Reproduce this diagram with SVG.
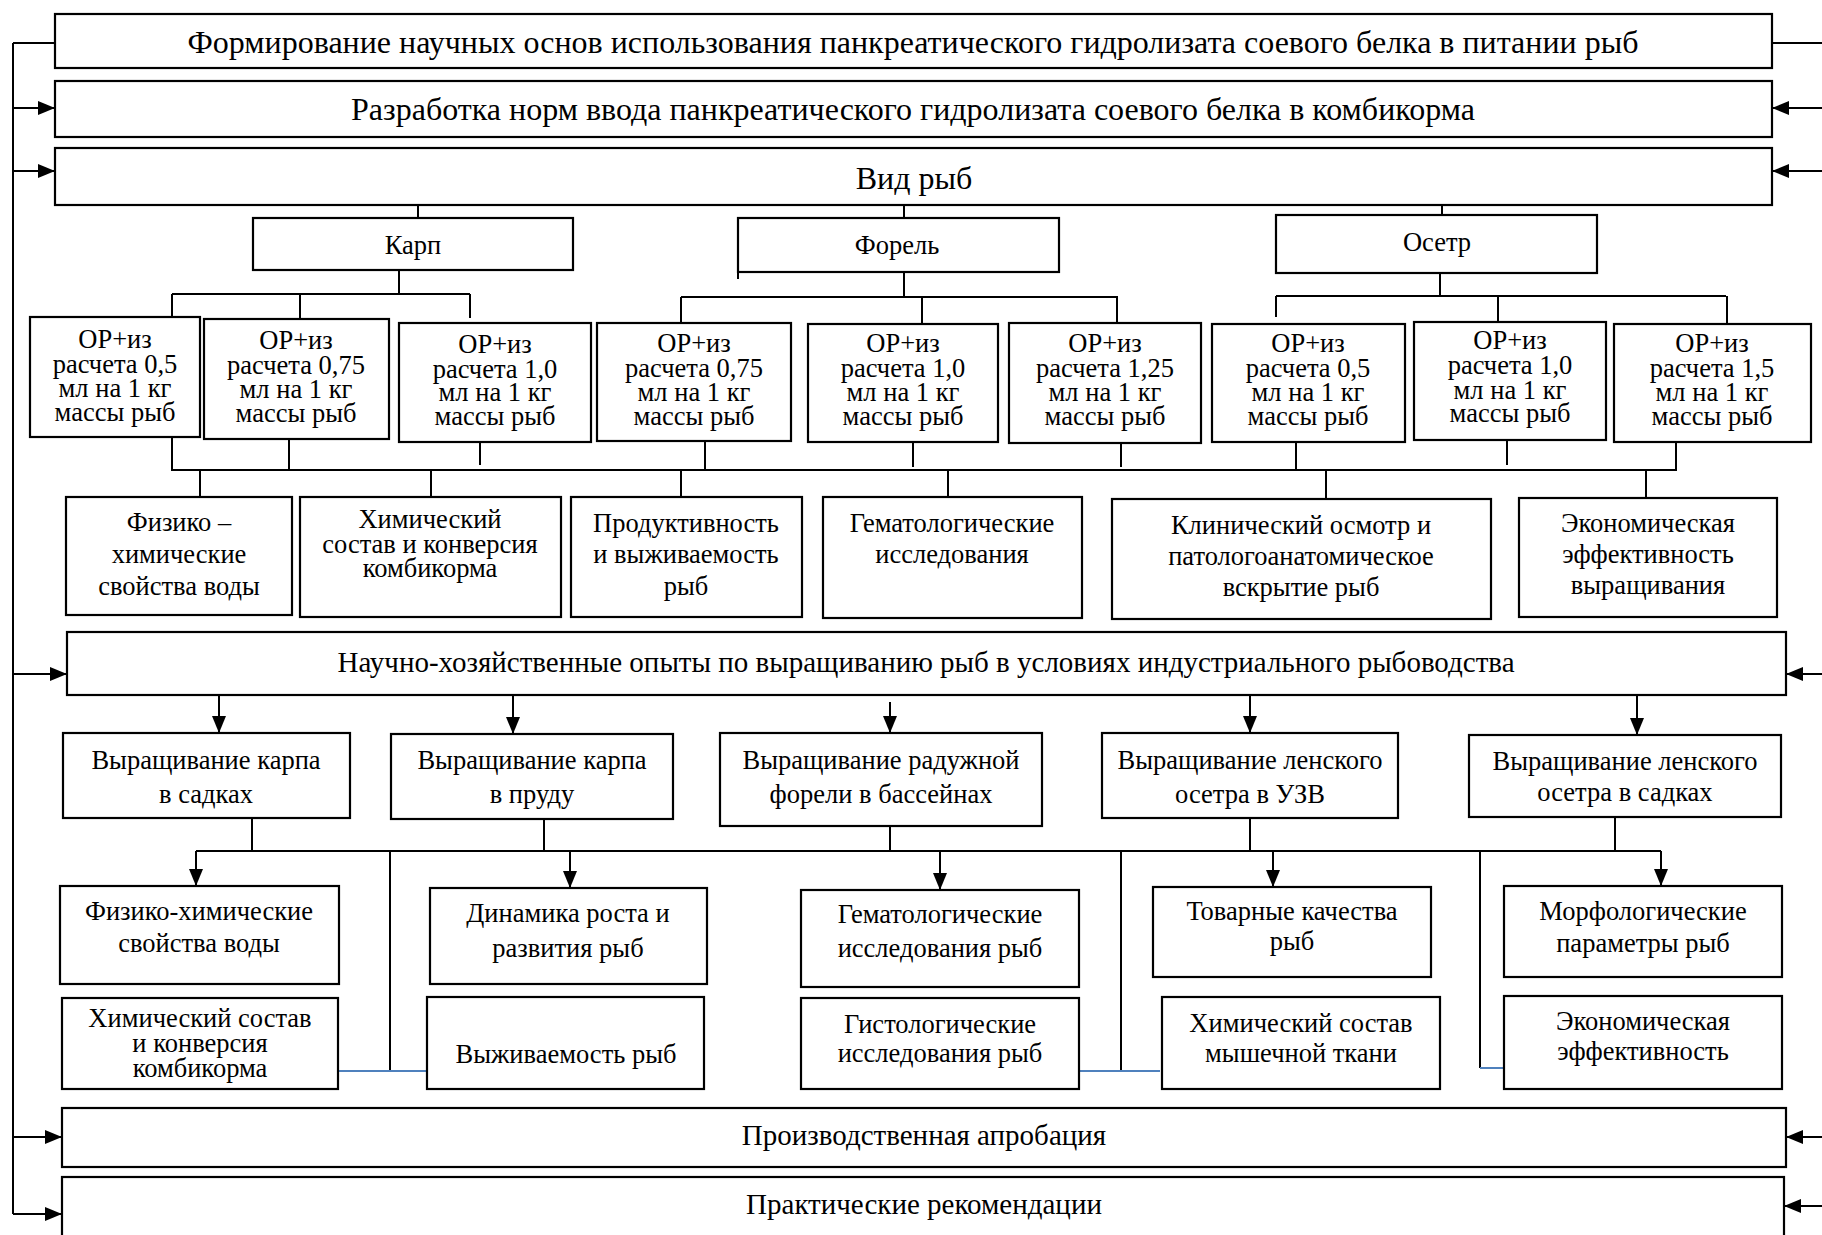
<svg xmlns="http://www.w3.org/2000/svg" width="1822" height="1235" viewBox="0 0 1822 1235">
<style>
.b{fill:#fff;stroke:#000;stroke-width:2.2}
.t{font-family:"Liberation Serif","Times New Roman",serif;fill:#000;text-anchor:middle}
.f32{font-size:32px}.f29{font-size:29px}.f26{font-size:26.5px}
.c{fill:none;stroke:#000;stroke-width:2}
.bl{fill:none;stroke:#4f81bd;stroke-width:1.8}
</style>
<defs>
<marker id="ah" markerUnits="userSpaceOnUse" viewBox="0 0 17 14" markerWidth="17" markerHeight="14" refX="17" refY="7" orient="auto">
<path d="M0,0 L17,7 L0,14 z" fill="#000"/>
</marker>
</defs>
<rect width="1822" height="1235" fill="#fff"/>

<g id="connectors">
<path class="c" d="M13,43 V1214 M13,43 H55 M1772,43 H1822"/>
<path class="c" marker-end="url(#ah)" d="M13,108 H55"/>
<path class="c" marker-end="url(#ah)" d="M13,171 H55"/>
<path class="c" marker-end="url(#ah)" d="M13,674 H67"/>
<path class="c" marker-end="url(#ah)" d="M13,1137 H62"/>
<path class="c" marker-end="url(#ah)" d="M13,1214 H62"/>
<path class="c" marker-end="url(#ah)" d="M1822,108 H1772"/>
<path class="c" marker-end="url(#ah)" d="M1822,171 H1772"/>
<path class="c" marker-end="url(#ah)" d="M1822,674 H1786"/>
<path class="c" marker-end="url(#ah)" d="M1822,1137 H1786"/>
<path class="c" marker-end="url(#ah)" d="M1822,1206 H1784"/>
<path class="c" d="M418,205 V218 M904,205 V218 M1442,205 V215"/>
<path class="c" d="M399,270 V294 M172,294 H470 M172,294 V317 M300,294 V319 M470,294 V318"/>
<path class="c" d="M904,272 V297 M681,297 H1118 M681,297 V323 M922,297 V324 M1117,297 V323 M738,270 V279"/>
<path class="c" d="M1440,273 V296 M1276,296 H1726 M1276,296 V317 M1498,296 V322 M1727,296 V324"/>
<path class="c" d="M172,437 V470 H1676 V443 M289,439 V470 M480,442 V465 M705,441 V470 M913,442 V467 M1121,443 V467 M1296,442 V470 M1507,440 V465"/>
<path class="c" d="M200,470 V497 M431,470 V497 M681,470 V497 M948,470 V497 M1326,470 V499 M1646,470 V498"/>
<path class="c" marker-end="url(#ah)" d="M219,695 V733"/>
<path class="c" marker-end="url(#ah)" d="M513,695 V734"/>
<path class="c" marker-end="url(#ah)" d="M890,702 V733"/>
<path class="c" marker-end="url(#ah)" d="M1250,695 V733"/>
<path class="c" marker-end="url(#ah)" d="M1637,695 V735"/>
<path class="c" d="M196,851 H1661 M252,818 V851 M544,819 V851 M890,826 V851 M1250,818 V851 M1615,817 V851"/>
<path class="c" marker-end="url(#ah)" d="M196,851 V886"/>
<path class="c" marker-end="url(#ah)" d="M570,851 V888"/>
<path class="c" marker-end="url(#ah)" d="M940,851 V890"/>
<path class="c" marker-end="url(#ah)" d="M1273,851 V887"/>
<path class="c" marker-end="url(#ah)" d="M1661,851 V886"/>
<path class="c" d="M390,851 V1071 M1121,851 V1071 M1480,851 V1068"/>
<path class="bl" d="M339,1071 H430 M1080,1071 H1160 M1480,1068 H1504"/>
</g>

<g id="n-title"><rect class="b" x="55" y="14" width="1717" height="54"/><text class="t f32" x="913" y="53">Формирование научных основ использования панкреатического гидролизата соевого белка в питании рыб</text></g>
<g id="n-norms"><rect class="b" x="55" y="81" width="1717" height="56"/><text class="t f32" x="913" y="120">Разработка норм ввода панкреатического гидролизата соевого белка в комбикорма</text></g>
<g id="n-species"><rect class="b" x="55" y="148" width="1717" height="57"/><text class="t f32" x="914" y="189">Вид рыб</text></g>

<g id="n-karp"><rect class="b" x="253" y="218" width="320" height="52"/><text class="t f26" x="413" y="254">Карп</text></g>
<g id="n-forel"><rect class="b" x="738" y="218" width="321" height="54"/><text class="t f26" x="897" y="254">Форель</text></g>
<g id="n-osetr"><rect class="b" x="1276" y="215" width="321" height="58"/><text class="t f26" x="1437" y="251">Осетр</text></g>

<g id="n-k1"><rect class="b" x="30" y="317" width="170" height="120"/><text class="t f26"><tspan x="115" y="348">ОР+из</tspan><tspan x="115" y="373">расчета 0,5</tspan><tspan x="115" y="397">мл на 1 кг</tspan><tspan x="115" y="421">массы рыб</tspan></text></g>
<g id="n-k2"><rect class="b" x="204" y="319" width="185" height="120"/><text class="t f26"><tspan x="296" y="349">ОР+из</tspan><tspan x="296" y="374">расчета 0,75</tspan><tspan x="296" y="398">мл на 1 кг</tspan><tspan x="296" y="422">массы рыб</tspan></text></g>
<g id="n-k3"><rect class="b" x="399" y="323" width="192" height="119"/><text class="t f26"><tspan x="495" y="353">ОР+из</tspan><tspan x="495" y="378">расчета 1,0</tspan><tspan x="495" y="401">мл на 1 кг</tspan><tspan x="495" y="425">массы рыб</tspan></text></g>
<g id="n-f1"><rect class="b" x="597" y="323" width="194" height="118"/><text class="t f26"><tspan x="694" y="352">ОР+из</tspan><tspan x="694" y="377">расчета 0,75</tspan><tspan x="694" y="401">мл на 1 кг</tspan><tspan x="694" y="425">массы рыб</tspan></text></g>
<g id="n-f2"><rect class="b" x="808" y="324" width="190" height="118"/><text class="t f26"><tspan x="903" y="352">ОР+из</tspan><tspan x="903" y="377">расчета 1,0</tspan><tspan x="903" y="401">мл на 1 кг</tspan><tspan x="903" y="425">массы рыб</tspan></text></g>
<g id="n-f3"><rect class="b" x="1009" y="323" width="192" height="120"/><text class="t f26"><tspan x="1105" y="352">ОР+из</tspan><tspan x="1105" y="377">расчета 1,25</tspan><tspan x="1105" y="401">мл на 1 кг</tspan><tspan x="1105" y="425">массы рыб</tspan></text></g>
<g id="n-o1"><rect class="b" x="1212" y="324" width="193" height="118"/><text class="t f26"><tspan x="1308" y="352">ОР+из</tspan><tspan x="1308" y="377">расчета 0,5</tspan><tspan x="1308" y="401">мл на 1 кг</tspan><tspan x="1308" y="425">массы рыб</tspan></text></g>
<g id="n-o2"><rect class="b" x="1414" y="322" width="192" height="118"/><text class="t f26"><tspan x="1510" y="349">ОР+из</tspan><tspan x="1510" y="374">расчета 1,0</tspan><tspan x="1510" y="399">мл на 1 кг</tspan><tspan x="1510" y="422">массы рыб</tspan></text></g>
<g id="n-o3"><rect class="b" x="1614" y="324" width="197" height="118"/><text class="t f26"><tspan x="1712" y="352">ОР+из</tspan><tspan x="1712" y="377">расчета 1,5</tspan><tspan x="1712" y="401">мл на 1 кг</tspan><tspan x="1712" y="425">массы рыб</tspan></text></g>

<g id="n-p1"><rect class="b" x="66" y="497" width="226" height="118"/><text class="t f26"><tspan x="179" y="531">Физико –</tspan><tspan x="179" y="563">химические</tspan><tspan x="179" y="595">свойства воды</tspan></text></g>
<g id="n-p2"><rect class="b" x="300" y="497" width="261" height="120"/><text class="t f26"><tspan x="430" y="528">Химический</tspan><tspan x="430" y="553">состав и конверсия</tspan><tspan x="430" y="577">комбикорма</tspan></text></g>
<g id="n-p3"><rect class="b" x="571" y="497" width="231" height="120"/><text class="t f26"><tspan x="686" y="532">Продуктивность</tspan><tspan x="686" y="563">и выживаемость</tspan><tspan x="686" y="595">рыб</tspan></text></g>
<g id="n-p4"><rect class="b" x="823" y="497" width="259" height="121"/><text class="t f26"><tspan x="952" y="532">Гематологические</tspan><tspan x="952" y="563">исследования</tspan></text></g>
<g id="n-p5"><rect class="b" x="1112" y="499" width="379" height="120"/><text class="t f26"><tspan x="1301" y="534">Клинический осмотр и</tspan><tspan x="1301" y="565">патологоанатомическое</tspan><tspan x="1301" y="596">вскрытие рыб</tspan></text></g>
<g id="n-p6"><rect class="b" x="1519" y="498" width="258" height="119"/><text class="t f26"><tspan x="1648" y="532">Экономическая</tspan><tspan x="1648" y="563">эффективность</tspan><tspan x="1648" y="594">выращивания</tspan></text></g>

<g id="n-trials"><rect class="b" x="67" y="632" width="1719" height="63"/><text class="t f29" x="926" y="672">Научно-хозяйственные опыты по выращиванию рыб в условиях индустриального рыбоводства</text></g>

<g id="n-c1"><rect class="b" x="63" y="733" width="287" height="85"/><text class="t f26"><tspan x="206" y="769">Выращивание карпа</tspan><tspan x="206" y="803">в садках</tspan></text></g>
<g id="n-c2"><rect class="b" x="391" y="734" width="282" height="85"/><text class="t f26"><tspan x="532" y="769">Выращивание карпа</tspan><tspan x="532" y="803">в пруду</tspan></text></g>
<g id="n-c3"><rect class="b" x="720" y="733" width="322" height="93"/><text class="t f26"><tspan x="881" y="769">Выращивание радужной</tspan><tspan x="881" y="803">форели в бассейнах</tspan></text></g>
<g id="n-c4"><rect class="b" x="1102" y="733" width="296" height="85"/><text class="t f26"><tspan x="1250" y="769">Выращивание ленского</tspan><tspan x="1250" y="803">осетра в УЗВ</tspan></text></g>
<g id="n-c5"><rect class="b" x="1469" y="735" width="312" height="82"/><text class="t f26"><tspan x="1625" y="770">Выращивание ленского</tspan><tspan x="1625" y="801">осетра в садках</tspan></text></g>

<g id="n-b1"><rect class="b" x="60" y="886" width="279" height="98"/><text class="t f26"><tspan x="199" y="920">Физико-химические</tspan><tspan x="199" y="952">свойства воды</tspan></text></g>
<g id="n-b2"><rect class="b" x="430" y="888" width="277" height="96"/><text class="t f26"><tspan x="568" y="922">Динамика роста и</tspan><tspan x="568" y="957">развития рыб</tspan></text></g>
<g id="n-b3"><rect class="b" x="801" y="890" width="278" height="97"/><text class="t f26"><tspan x="940" y="923">Гематологические</tspan><tspan x="940" y="957">исследования рыб</tspan></text></g>
<g id="n-b4"><rect class="b" x="1153" y="887" width="278" height="90"/><text class="t f26"><tspan x="1292" y="920">Товарные качества</tspan><tspan x="1292" y="950">рыб</tspan></text></g>
<g id="n-b5"><rect class="b" x="1504" y="886" width="278" height="91"/><text class="t f26"><tspan x="1643" y="920">Морфологические</tspan><tspan x="1643" y="952">параметры рыб</tspan></text></g>

<g id="n-d1"><rect class="b" x="62" y="998" width="276" height="91"/><text class="t f26"><tspan x="200" y="1027">Химический состав</tspan><tspan x="200" y="1052">и конверсия</tspan><tspan x="200" y="1077">комбикорма</tspan></text></g>
<g id="n-d2"><rect class="b" x="427" y="997" width="277" height="92"/><text class="t f26" x="566" y="1063">Выживаемость рыб</text></g>
<g id="n-d3"><rect class="b" x="801" y="998" width="278" height="91"/><text class="t f26"><tspan x="940" y="1033">Гистологические</tspan><tspan x="940" y="1062">исследования рыб</tspan></text></g>
<g id="n-d4"><rect class="b" x="1162" y="997" width="278" height="92"/><text class="t f26"><tspan x="1301" y="1032">Химический состав</tspan><tspan x="1301" y="1062">мышечной ткани</tspan></text></g>
<g id="n-d5"><rect class="b" x="1504" y="996" width="278" height="93"/><text class="t f26"><tspan x="1643" y="1030">Экономическая</tspan><tspan x="1643" y="1060">эффективность</tspan></text></g>

<g id="n-approb"><rect class="b" x="62" y="1108" width="1724" height="59"/><text class="t f29" x="924" y="1145">Производственная апробация</text></g>
<g id="n-recom"><rect class="b" x="62" y="1177" width="1722" height="80"/><text class="t f29" x="924" y="1214">Практические рекомендации</text></g>
</svg>
